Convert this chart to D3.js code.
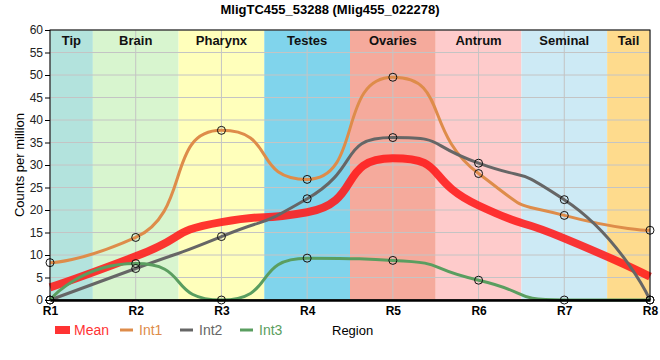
<!DOCTYPE html>
<html><head><meta charset="utf-8">
<script src="https://cdn.jsdelivr.net/npm/d3@7"></script>
<style>body{margin:0;background:#fff}</style>
</head><body>
<svg id="c" width="660" height="360"></svg>
<script>
const regions = ["R1","R2","R3","R4","R5","R6","R7","R8"];
const bandNames = ["Tip","Brain","Pharynx","Testes","Ovaries","Antrum","Seminal","Tail"];
const bandColors = ["#b3e3dd","#d8f5cf","#ffffbb","#80d4ec","#f5aa9c","#fecbcb","#cdeaf5","#fedb8d"];
const meanVals = [2.8, 9.7, 17.3, 19.5, 31.5, 21.0, 13.7, 5.2];
const int1 = [8.3, 13.9, 37.7, 26.8, 49.5, 28.1, 18.8, 15.5];
const int2 = [0, 7.0, 14.1, 22.5, 36.1, 30.4, 22.3, 0];
const int3 = [0, 8.1, 0, 9.3, 8.8, 4.4, 0, 0];
const yTicks = [0,5,10,15,20,25,30,35,40,45,50,55,60];

const svg = d3.select("#c");
const L=50,R=650,T=30,B=300;
const x = d3.scalePoint().domain(regions).range([L,R]);
const y = d3.scaleLinear().domain([0,60]).range([B,T]);
const step = x.step();
const font = "'Liberation Sans', Arial, sans-serif";

// bands
bandNames.forEach((n,i)=>{
  const cx = x(regions[i]);
  const x0 = Math.max(L, cx-step/2), x1 = Math.min(R, cx+step/2);
  svg.append("rect").attr("x",x0).attr("y",T).attr("width",x1-x0).attr("height",B-T).attr("fill",bandColors[i]);
});
// grid
svg.append("g").selectAll("line").data(yTicks).join("line")
  .attr("x1",L).attr("x2",R).attr("y1",d=>y(d)).attr("y2",d=>y(d))
  .attr("stroke","#c4c4c4").attr("stroke-width",1);
svg.append("g").selectAll("line").data(regions).join("line")
  .attr("x1",d=>x(d)).attr("x2",d=>x(d)).attr("y1",T).attr("y2",B)
  .attr("stroke","#c4c4c4").attr("stroke-width",1);
// band labels
bandNames.forEach((n,i)=>{
  const cx = x(regions[i]);
  const x0 = Math.max(L, cx-step/2), x1 = Math.min(R, cx+step/2);
  svg.append("text").attr("x",(x0+x1)/2).attr("y",45).attr("text-anchor","middle")
    .attr("font-family",font).attr("font-weight","bold").attr("font-size",13).attr("fill","#111").text(n);
});

// smoothed spline (control points pass through each point, no false extremes)
const K = 0.65;
function spline(vals){
  const p = vals.map((v,i)=>[x(regions[i]), y(v)]);
  const n = p.length;
  const lc = p.map(q=>q.slice()), rc = p.map(q=>q.slice());
  for(let i=1;i<n-1;i++){
    const [lx,ly]=p[i-1],[px,py]=p[i],[nx,ny]=p[i+1];
    let lcx=px+K*(lx-px), lcy=py+K*(ly-py), rcx=px+K*(nx-px), rcy=py+K*(ny-py);
    const corr = ((rcy-lcy)*(rcx-px))/(rcx-lcx) + py - rcy;
    lcy+=corr; rcy+=corr;
    if(lcy>ly && lcy>py){ lcy=Math.max(ly,py); rcy=2*py-lcy; }
    else if(lcy<ly && lcy<py){ lcy=Math.min(ly,py); rcy=2*py-lcy; }
    if(rcy>ny && rcy>py){ rcy=Math.max(ny,py); lcy=2*py-rcy; }
    else if(rcy<ny && rcy<py){ rcy=Math.min(ny,py); lcy=2*py-rcy; }
    lc[i]=[lcx,lcy]; rc[i]=[rcx,rcy];
  }
  const path = d3.path();
  path.moveTo(p[0][0],p[0][1]);
  for(let i=1;i<n;i++) path.bezierCurveTo(rc[i-1][0],rc[i-1][1],lc[i][0],lc[i][1],p[i][0],p[i][1]);
  return path.toString();
}

svg.append("path").attr("d",spline(meanVals)).attr("fill","none").attr("stroke","#ff1a1a").attr("stroke-opacity",0.88).attr("stroke-width",8);
const series = [{v:int1,c:"#de8c4a"},{v:int2,c:"#666666"},{v:int3,c:"#5a9e60"}];
series.forEach(s=>{
  svg.append("path").attr("d",spline(s.v)).attr("fill","none").attr("stroke",s.c).attr("stroke-width",3);
});
series.forEach(s=>{
  svg.append("g").selectAll("circle").data(s.v).join("circle")
    .attr("cx",(d,i)=>x(regions[i])).attr("cy",d=>y(d)).attr("r",4)
    .attr("fill","none").attr("stroke","#111").attr("stroke-width",1);
});

// border
svg.append("rect").attr("x",L).attr("y",T).attr("width",R-L).attr("height",B-T).attr("fill","none").attr("stroke","#000").attr("stroke-width",1);
// axes
const ya = svg.append("g").attr("transform",`translate(${L},0)`).call(d3.axisLeft(y).tickValues(yTicks).tickSize(5).tickPadding(2));
ya.select(".domain").remove();
ya.selectAll("text").attr("font-family",font).attr("font-size",12).attr("fill","#222");
const xa = svg.append("g").attr("transform",`translate(0,${B})`).call(d3.axisBottom(x).tickSize(0).tickPadding(6));
xa.select(".domain").attr("stroke-width",2.5).attr("stroke","#000");
xa.selectAll("text").attr("font-family",font).attr("font-size",12).attr("font-weight","bold").attr("fill","#000");

// title
svg.append("text").attr("x",330).attr("y",14).attr("text-anchor","middle").attr("font-family",font)
  .attr("font-weight","bold").attr("font-size",13).text("MligTC455_53288 (Mlig455_022278)");
// y label
svg.append("text").attr("transform","translate(24,165) rotate(-90)").attr("text-anchor","middle")
  .attr("font-family",font).attr("font-size",13).text("Counts per million");

// legend
const leg = [{n:"Mean",c:"#ff3333",t:"rect",x:55},{n:"Int1",c:"#de8c4a",t:"line",x:120},{n:"Int2",c:"#666666",t:"line",x:180},{n:"Int3",c:"#5a9e60",t:"line",x:240}];
leg.forEach(l=>{
  if(l.t==="rect") svg.append("rect").attr("x",l.x).attr("y",326).attr("width",15).attr("height",8).attr("fill",l.c);
  else svg.append("line").attr("x1",l.x).attr("x2",l.x+13).attr("y1",330).attr("y2",330).attr("stroke",l.c).attr("stroke-width",3);
  svg.append("text").attr("x",l.x+19).attr("y",335).attr("font-family",font).attr("font-size",14).attr("fill",l.c).text(l.n);
});
svg.append("text").attr("x",332).attr("y",335).attr("font-family",font).attr("font-size",13).attr("fill","#000").text("Region");
</script>
</body></html>
